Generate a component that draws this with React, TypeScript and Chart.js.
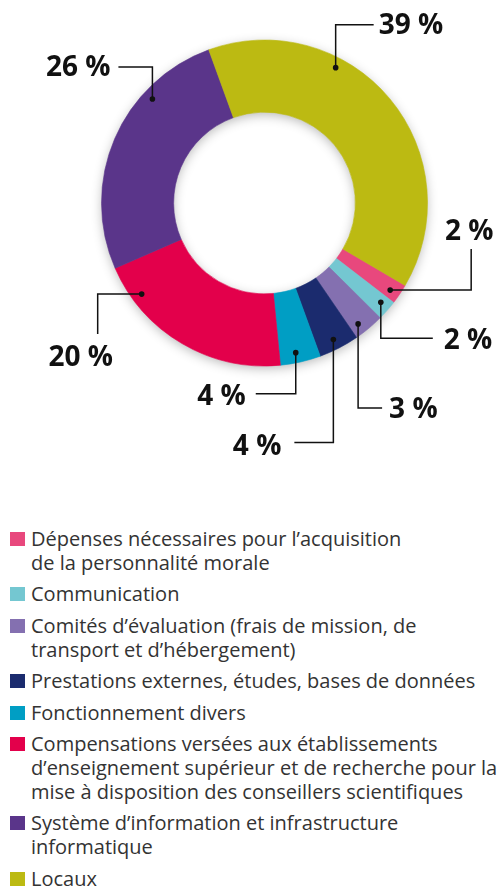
import React, { useEffect, useRef } from "react";
import { Chart, ArcElement, DoughnutController } from "chart.js";

Chart.register(ArcElement, DoughnutController);

// ---- Data ----
const categories = [
  "Dépenses nécessaires pour l’acquisition de la personnalité morale",
  "Communication",
  "Comités d’évaluation (frais de mission, de transport et d’hébergement)",
  "Prestations externes, études, bases de données",
  "Fonctionnement divers",
  "Compensations versées aux établissements d’enseignement supérieur et de recherche pour la mise à disposition des conseillers scientifiques",
  "Système d’information et infrastructure informatique",
  "Locaux",
];
const legendLines = [
  ["Dépenses nécessaires pour l’acquisition", "de la personnalité morale"],
  ["Communication"],
  ["Comités d’évaluation (frais de mission, de", "transport et d’hébergement)"],
  ["Prestations externes, études, bases de données"],
  ["Fonctionnement divers"],
  [
    "Compensations versées aux établissements",
    "d’enseignement supérieur et de recherche pour la",
    "mise à disposition des conseillers scientifiques",
  ],
  ["Système d’information et infrastructure", "informatique"],
  ["Locaux"],
];
const values = [2, 2, 3, 4, 4, 20, 26, 39];
const valueLabels = ["2 %", "2 %", "3 %", "4 %", "4 %", "20 %", "26 %", "39 %"];
const colors = [
  "#E8487D",
  "#74C7D1",
  "#8470B0",
  "#1B2B6E",
  "#009EC4",
  "#E3004B",
  "#5A358A",
  "#BCBA12",
];

// ---- Label leader layout (annotation styling) ----
type Lay = { frac: number; first: "h" | "v"; dx: number; dy: number; tx: number; ty: number; align: CanvasTextAlign };
const labelLayout: Lay[] = [
  { frac: 0.6, first: "h", dx: 81, dy: -41, tx: -2, ty: -19, align: "center" },
  { frac: 0.4, first: "v", dy: 36, dx: 52, tx: 11, ty: 1, align: "left" },
  { frac: 0.69, first: "v", dy: 84, dx: 24, tx: 7, ty: 0, align: "left" },
  { frac: 0.53, first: "v", dy: 103, dx: -39, tx: -13, ty: 2, align: "right" },
  { frac: 0.57, first: "v", dy: 41, dx: -40, tx: -10, ty: 1, align: "right" },
  { frac: 0.82, first: "h", dx: -44, dy: 40, tx: -17, ty: 22, align: "center" },
  { frac: 0.71, first: "v", dy: -32, dx: -34, tx: -8, ty: -1.5, align: "right" },
  { frac: 0.34, first: "v", dy: -43, dx: 38, tx: 5, ty: -1, align: "left" },
];

const shadowPlugin = {
  id: "ringShadow",
  beforeDatasetsDraw(chart: any) {
    const meta = chart.getDatasetMeta(0);
    const a = meta.data[0];
    if (!a) return;
    const { x, y, innerRadius, outerRadius } = a.getProps(["x", "y", "innerRadius", "outerRadius"], true);
    const ctx = chart.ctx;
    ctx.save();
    ctx.shadowColor = "rgba(0,0,0,0.30)";
    ctx.shadowBlur = 12;
    ctx.shadowOffsetY = 3;
    ctx.beginPath();
    ctx.arc(x, y, outerRadius - 1, 0, Math.PI * 2);
    ctx.arc(x, y, innerRadius + 1, 0, Math.PI * 2, true);
    ctx.closePath();
    ctx.fillStyle = "#bbb";
    ctx.fill("evenodd");
    ctx.restore();
  },
};

const leaderPlugin = {
  id: "leaders",
  afterDatasetsDraw(chart: any) {
    const meta = chart.getDatasetMeta(0);
    const ctx = chart.ctx;
    ctx.save();
    meta.data.forEach((arc: any, i: number) => {
      const lay = labelLayout[i];
      const { x, y, startAngle, endAngle, innerRadius, outerRadius } = arc.getProps(
        ["x", "y", "startAngle", "endAngle", "innerRadius", "outerRadius"],
        true
      );
      const ang = startAngle + lay.frac * (endAngle - startAngle);
      const r = innerRadius + 0.86 * (outerRadius - innerRadius);
      const px = x + r * Math.cos(ang);
      const py = y + r * Math.sin(ang);
      let mx: number, my: number;
      if (lay.first === "h") {
        mx = px + lay.dx;
        my = py;
      } else {
        mx = px;
        my = py + lay.dy;
      }
      const ex = px + lay.dx;
      const ey = py + lay.dy;
      ctx.strokeStyle = "#111";
      ctx.lineWidth = 1.5;
      ctx.beginPath();
      ctx.moveTo(px, py);
      ctx.lineTo(mx, my);
      ctx.lineTo(ex, ey);
      ctx.stroke();
      ctx.fillStyle = "#111";
      ctx.beginPath();
      ctx.arc(px, py, 2.8, 0, Math.PI * 2);
      ctx.fill();
      ctx.font = "700 28px 'Open Sans'";
      ctx.textAlign = lay.align;
      ctx.textBaseline = "alphabetic";
      ctx.fillText(valueLabels[i], ex + lay.tx, ey + lay.ty + 10);
    });
    ctx.restore();
  },
};

export default function App() {
  const ref = useRef<HTMLCanvasElement | null>(null);
  useEffect(() => {
    if (!ref.current) return;
    const chart = new Chart(ref.current, {
      type: "doughnut",
      data: {
        labels: categories,
        datasets: [
          {
            data: values,
            backgroundColor: colors,
            borderColor: colors,
            borderWidth: 0.6,
            hoverOffset: 0,
            offset: 0,
          },
        ],
      },
      options: {
        animation: false,
        responsive: false,
        rotation: 120.4,
        radius: 163,
        cutout: 113,
        layout: { padding: { left: 27, right: 0, top: 0, bottom: 64 } },
        plugins: { legend: { display: false }, tooltip: { enabled: false } },
        events: [],
      } as any,
      plugins: [shadowPlugin, leaderPlugin],
    });
    return () => chart.destroy();
  }, []);

  return (
    <div
      style={{
        position: "absolute",
        left: 0,
        top: 0,
        width: 502,
        height: 889,
        overflow: "hidden",
        background: "#fff",
      }}
    >
      <canvas ref={ref} width={502} height={470} style={{ position: "absolute", left: 0, top: 0, width: 502, height: 470 }} />
      <div
        style={{
          position: "absolute",
          left: 0,
          top: 527,
          width: 502,
          fontFamily: "'Open Sans', sans-serif",
          fontSize: 20,
          lineHeight: "24px",
          color: "#333",
        }}
      >
        {legendLines.map((lines, i) => (
          <div key={i} style={{ position: "relative", paddingLeft: 31, marginBottom: 7.4, whiteSpace: "nowrap" }}>
            <span
              style={{
                position: "absolute",
                left: 10,
                top: 5,
                width: 15,
                height: 14,
                background: colors[i],
              }}
            />
            {lines.map((l, j) => (
              <div key={j}>{l}</div>
            ))}
          </div>
        ))}
      </div>
    </div>
  );
}
